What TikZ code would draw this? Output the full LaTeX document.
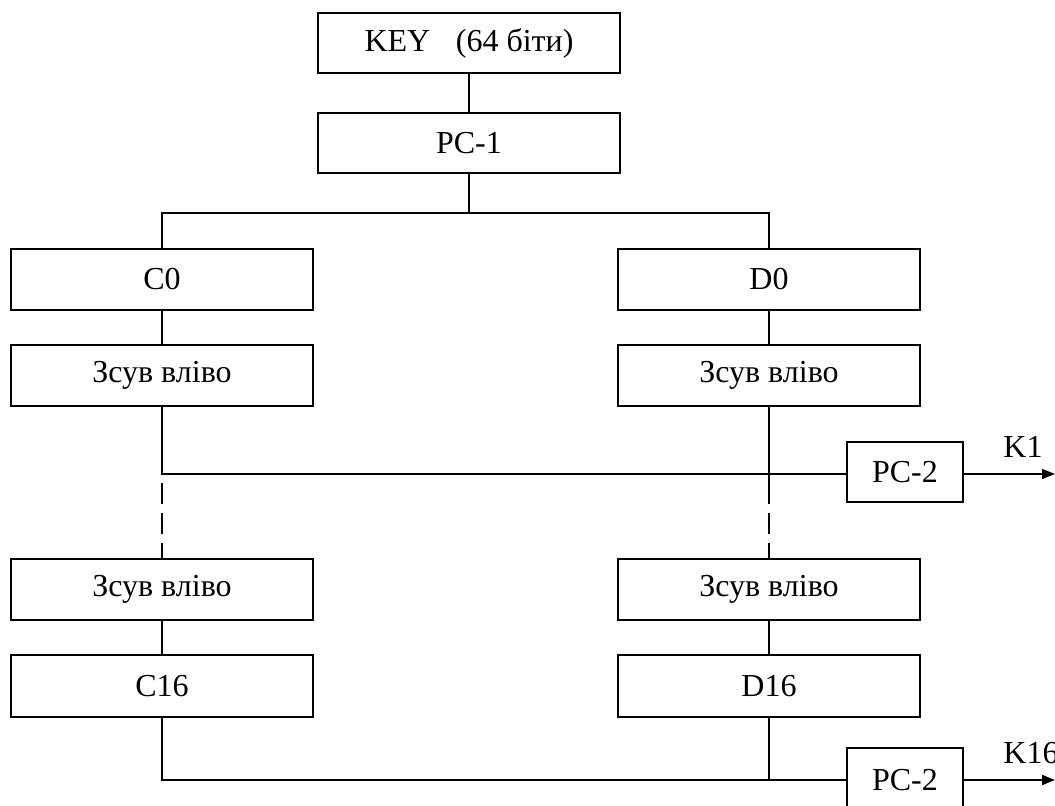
\documentclass[tikz,border=0pt]{standalone}
\usepackage{fontspec}
\setmainfont{Liberation Serif}
\usetikzlibrary{arrows.meta}
\begin{document}
\begin{tikzpicture}[x=0.5pt,y=-0.5pt,
  every node/.style={font=\fontsize{16}{19}\selectfont},
  wide/.style={draw, line width=0.75pt, inner sep=0pt, minimum width=151pt, minimum height=30.5pt},
  small/.style={draw, line width=0.75pt, inner sep=0pt, minimum width=58pt, minimum height=30pt},
  link/.style={line width=0.75pt},
  gapline/.style={line width=0.75pt, dash pattern=on 10.5pt off 4.5pt},
  keyarrow/.style={line width=0.75pt, -{Triangle[length=6.5pt,width=5pt]}}]
\useasboundingbox (0,0) rectangle (1055,806);
\fill[white] (0,0) rectangle (1055,806);
% key schedule boxes
\node[wide, minimum height=30pt] (key) at (469,43) {KEY\hspace{0.8em}(64 біти)};
\node[wide, minimum height=30pt] (pc1) at (469,143) {PC-1};
\node[wide] (c0) at (162,279.5) {C0};
\node[wide] (d0) at (769,279.5) {D0};
\node[wide] (sl1) at (162,375.5) {Зсув вліво};
\node[wide] (sr1) at (769,375.5) {Зсув вліво};
\node[wide] (sl2) at (162,589.5) {Зсув вліво};
\node[wide] (sr2) at (769,589.5) {Зсув вліво};
\node[wide, minimum height=31pt] (c16) at (162,686) {C16};
\node[wide, minimum height=31pt] (d16) at (769,686) {D16};
\node[small] (pa) at (905,472) {PC-2};
\node[small, minimum height=32pt] (pb) at (905,780) {PC-2};
% junction points
\coordinate (split) at (469,213);
\coordinate (jl) at (162,474);
\coordinate (jl2) at (162,483);
\coordinate (jr2) at (769,483);
\coordinate (bl) at (162,780);
\coordinate (br) at (769,780);
\coordinate (k1) at (1055,474);
\coordinate (k16) at (1055,780);
% connectors
\draw[link] (key) -- (pc1);
\draw[link] (pc1) -- (split);
\draw[link] (c0.north) |- (split) -| (d0.north);
\draw[link] (c0) -- (sl1);
\draw[link] (d0) -- (sr1);
\draw[link] (sl1.south) -- (jl) -- (pa.west |- jl);
\draw[link] (sr1.south) -- (jr2);
\draw[gapline] (jl2) -- (sl2.north);
\draw[gapline] (jr2) -- (sr2.north);
\draw[link] (sl2) -- (c16);
\draw[link] (sr2) -- (d16);
\draw[link] (c16.south) -- (bl) -- (pb.west);
\draw[link] (d16.south) -- (br);
\draw[keyarrow] (pa.east |- k1) -- (k1);
\draw[keyarrow] (pb.east) -- (k16);
\node[anchor=south west, inner sep=0pt] (lk1) at (1003,458) {K1};
\node[anchor=south west, inner sep=0pt] (lk16) at (1003,764) {K16};
\end{tikzpicture}
\end{document}
